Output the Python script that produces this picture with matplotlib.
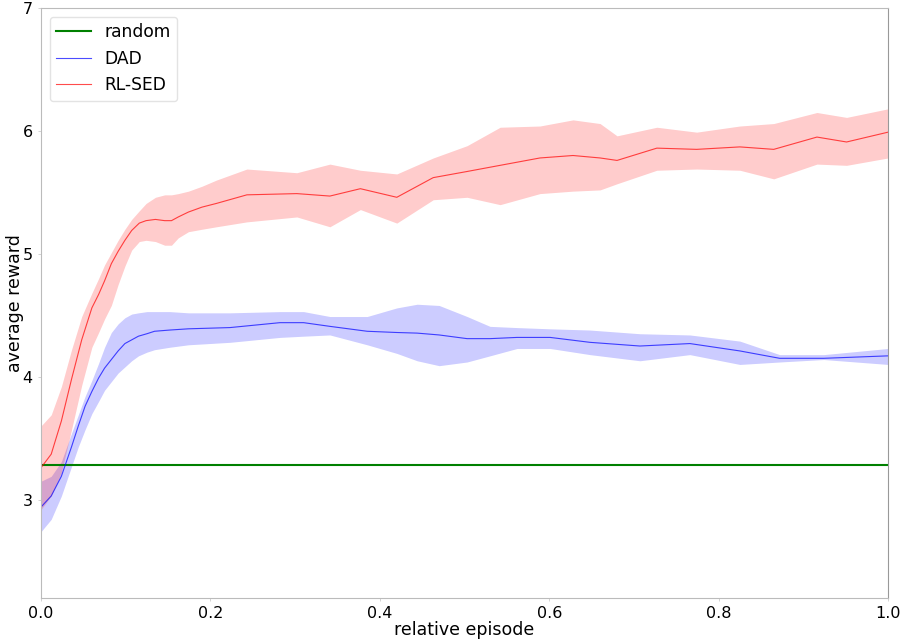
import numpy as np
import matplotlib
matplotlib.use("Agg")
import matplotlib.pyplot as plt

# RL-SED (red): mean and band
red_x = [0, 0.012, 0.024, 0.036, 0.048, 0.06, 0.068, 0.075, 0.083, 0.091, 0.099, 0.107,
         0.116, 0.124, 0.135, 0.146, 0.154, 0.162, 0.174, 0.19, 0.207, 0.243,
         0.302, 0.341, 0.377, 0.42, 0.463, 0.503, 0.542, 0.589, 0.628, 0.66, 0.68, 0.727,
         0.774, 0.825, 0.865, 0.916, 0.951, 1.0]
red_mean = [3.26, 3.37, 3.64, 3.98, 4.30, 4.56, 4.67, 4.78, 4.92, 5.02, 5.11, 5.19,
            5.25, 5.27, 5.28, 5.27, 5.27, 5.30, 5.34, 5.38, 5.41, 5.48,
            5.49, 5.47, 5.53, 5.46, 5.62, 5.67, 5.72, 5.78, 5.80, 5.78, 5.76, 5.86,
            5.85, 5.87, 5.85, 5.95, 5.91, 5.99]
red_upper = [3.60, 3.69, 3.92, 4.22, 4.49, 4.68, 4.80, 4.91, 5.01, 5.11, 5.20, 5.28,
             5.35, 5.41, 5.46, 5.48, 5.48, 5.49, 5.51, 5.55, 5.60, 5.69,
             5.66, 5.73, 5.68, 5.65, 5.78, 5.88, 6.03, 6.04, 6.09, 6.06, 5.96, 6.03,
             5.99, 6.04, 6.06, 6.15, 6.11, 6.18]
red_lower = [2.92, 3.03, 3.22, 3.57, 3.93, 4.24, 4.36, 4.47, 4.58, 4.75, 4.90, 5.03,
             5.10, 5.11, 5.10, 5.07, 5.07, 5.13, 5.18, 5.20, 5.22, 5.26,
             5.30, 5.22, 5.36, 5.25, 5.44, 5.46, 5.40, 5.49, 5.51, 5.52, 5.57, 5.68,
             5.69, 5.68, 5.61, 5.73, 5.72, 5.78]

# DAD (blue)
blue_x = [0, 0.012, 0.024, 0.036, 0.044, 0.052, 0.06, 0.068, 0.075, 0.083, 0.091, 0.099,
          0.107, 0.115, 0.125, 0.134, 0.152, 0.174, 0.223, 0.282, 0.31,
          0.341, 0.385, 0.42, 0.444, 0.47, 0.503, 0.53, 0.562, 0.601, 0.648, 0.707, 0.766,
          0.825, 0.872, 0.924, 1.0]
blue_mean = [2.94, 3.03, 3.19, 3.43, 3.60, 3.76, 3.88, 3.99, 4.07, 4.14, 4.21, 4.27,
             4.30, 4.33, 4.35, 4.37, 4.38, 4.39, 4.40, 4.44, 4.44,
             4.41, 4.37, 4.36, 4.355, 4.34, 4.31, 4.31, 4.32, 4.32, 4.28, 4.25, 4.27,
             4.21, 4.15, 4.15, 4.17]
blue_upper = [3.15, 3.19, 3.31, 3.54, 3.69, 3.84, 3.97, 4.11, 4.24, 4.36, 4.43, 4.48,
              4.51, 4.52, 4.53, 4.53, 4.53, 4.52, 4.52, 4.53, 4.53,
              4.49, 4.49, 4.56, 4.59, 4.58, 4.49, 4.41, 4.40, 4.39, 4.38, 4.35, 4.34,
              4.29, 4.18, 4.18, 4.23]
blue_lower = [2.74, 2.84, 3.03, 3.27, 3.43, 3.57, 3.70, 3.80, 3.89, 3.96, 4.03, 4.08,
              4.13, 4.17, 4.20, 4.22, 4.24, 4.26, 4.28, 4.32, 4.33,
              4.34, 4.26, 4.19, 4.13, 4.09, 4.12, 4.17, 4.23, 4.23, 4.18, 4.13, 4.18,
              4.10, 4.12, 4.14, 4.10]

random_level = 3.28

fig = plt.figure(figsize=(9.04, 6.41), dpi=100)
ax = fig.add_axes([0.0454, 0.0671, 0.937, 0.9204])

ax.axhline(random_level, color="green", lw=1.5, label="random")

ax.fill_between(blue_x, blue_lower, blue_upper, color="blue", alpha=0.2, lw=0)
ax.plot(blue_x, blue_mean, color="blue", lw=0.8, alpha=0.7, label="DAD")

ax.fill_between(red_x, red_lower, red_upper, color="red", alpha=0.2, lw=0)
ax.plot(red_x, red_mean, color="red", lw=0.8, alpha=0.7, label="RL-SED")

ax.set_xlim(0, 1)
ax.set_ylim(2.2, 7)
ax.set_yticks([3, 4, 5, 6, 7])
ax.set_xticks([0, 0.2, 0.4, 0.6, 0.8, 1.0])
ax.tick_params(length=2, width=0.6, color="#cccccc", labelsize=11.5, pad=4)
for s in ax.spines.values():
    s.set_color("#bbbbbb")
ax.spines["right"].set_color("#999999")

ax.set_xlabel("relative episode", fontsize=12.5, labelpad=-0.5)
ax.set_ylabel("average reward", fontsize=12.5, labelpad=-1)

leg = ax.legend(loc="upper left", fontsize=12.3, frameon=True, handlelength=2.0)
leg.get_frame().set_edgecolor("#dddddd")

fig.savefig("out.png", dpi=100)
